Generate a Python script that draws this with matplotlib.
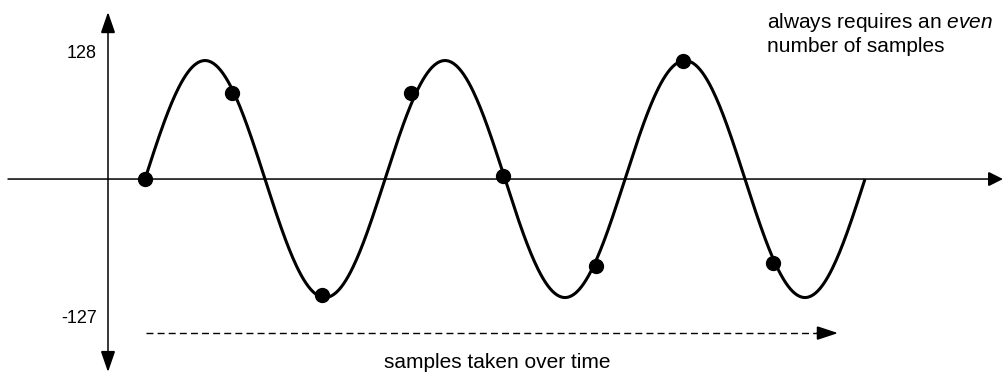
import numpy as np
import matplotlib
matplotlib.use('Agg')
from matplotlib import pyplot
from matplotlib.patches import FancyArrowPatch

pyplot.rcParams['font.family'] = ['Liberation Sans', 'DejaVu Sans']
pyplot.rcParams['mathtext.fontset'] = 'custom'
pyplot.rcParams['mathtext.rm'] = 'Liberation Sans'
pyplot.rcParams['mathtext.it'] = 'Liberation Sans:italic'

# wave: 3 cycles, peak 128 (time in wave periods)
wave_cycles = 3
wave_peak = 128

# sample dots
sample_times = [0.0, 0.3625, 0.7375, 1.108, 1.492, 1.879, 2.242, 2.617]
sample_values = [0, 93, -125, 93, 3, -94, 128, -91]

axis_labels = ['128', '-127']
axis_label_values = [136, -151]

fig = pyplot.figure()
fig.set_size_inches(10.04, 3.74)
ax = fig.add_axes([0, 0, 1, 1])
ax.set_xlim(-0.6042, 3.5792)
ax.set_ylim(-210.6, 193.4)
ax.axis('off')

def arrow(x0, y0, x1, y1, style, lw=1.1):
    ax.add_patch(FancyArrowPatch((x0, y0), (x1, y1), arrowstyle=style,
                                 mutation_scale=1, lw=lw, color='black',
                                 shrinkA=0, shrinkB=0, joinstyle='miter'))

# axes
arrow(-0.1542, -208.5, -0.1542, 180.4, '<|-|>,head_length=13,head_width=4.5')
arrow(-0.5708, 0, 3.575, 0, '-|>,head_length=9,head_width=4.5')

# sine wave
t = np.linspace(0, wave_cycles, 600)
ax.plot(t, wave_peak * np.sin(2 * np.pi * t), color='black', lw=2.2,
        solid_capstyle='butt')
ax.plot(sample_times, sample_values, 'o', color='black', markersize=10)

# time arrow
ax.plot([0.004, 2.82], [-166.4, -166.4], color='black', lw=1.0, ls=(0, (5, 3)))
arrow(2.80, -166.4, 2.8875, -166.4, '-|>,head_length=13,head_width=4.3')

for lab, v in zip(axis_labels, axis_label_values):
    ax.text(-0.2, v, lab, ha='right', va='center', fontsize=13)

ax.text(1.4667, -197.7, 'samples taken over time', ha='center', va='center', fontsize=15)
ax.text(2.5917, 169.6, r'always requires an $\it{even}$', ha='left', va='center', fontsize=15)
ax.text(2.5917, 143.7, 'number of samples', ha='left', va='center', fontsize=15)

pyplot.savefig('out.png', dpi=100, facecolor='white')
